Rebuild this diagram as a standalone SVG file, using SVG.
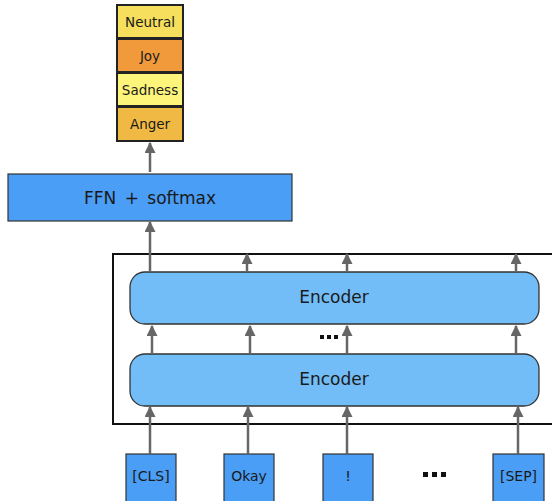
<svg xmlns="http://www.w3.org/2000/svg" width="552" height="501" viewBox="0 0 552 501">
<style>
text{font-family:"DejaVu Sans","Liberation Sans",sans-serif;fill:#1a1a1a;text-anchor:middle;dominant-baseline:central}
.emo{stroke:#222;stroke-width:2}
.blue{fill:#4a9ef5;stroke:#333;stroke-width:1.2}
.enc{fill:#72bdf7;stroke:#333;stroke-width:1.3}
.conn line{stroke:#666;stroke-width:2.5;marker-end:url(#ah)}
</style>
<defs>
<marker id="ah" viewBox="0 0 10 10" refX="9" refY="5" markerWidth="4.4" markerHeight="4.4" orient="auto" markerUnits="strokeWidth">
<path d="M0,0 L10,5 L0,10 z" fill="#666"/>
</marker>
</defs>
<rect width="552" height="501" fill="#fff"/>
<g id="outer"><rect x="113" y="254" width="450" height="170" fill="none" stroke="#111" stroke-width="2"/></g>
<g id="emotions">
<g id="neutral"><rect class="emo" x="117" y="5" width="66" height="33" fill="#f5df5c"/><text x="150" y="21.5" font-size="13.5">Neutral</text></g>
<g id="joy"><rect class="emo" x="117" y="39" width="66" height="33" fill="#f09a3c"/><text x="150" y="55.5" font-size="13.5">Joy</text></g>
<g id="sadness"><rect class="emo" x="117" y="73" width="66" height="33" fill="#fdf47c"/><text x="150" y="89.5" font-size="13.5">Sadness</text></g>
<g id="anger"><rect class="emo" x="117" y="107" width="66" height="34" fill="#f0b944"/><text x="150" y="124" font-size="13.5">Anger</text></g>
</g>
<g id="ffn"><rect class="blue" x="8" y="174" width="284" height="47"/><text x="150" y="197.5" font-size="17" word-spacing="3">FFN + softmax</text></g>
<g id="encoder2"><rect class="enc" x="130" y="272" width="409" height="52" rx="15"/><text x="334" y="297" font-size="17">Encoder</text></g>
<g id="encoder1"><rect class="enc" x="130" y="354" width="409" height="52" rx="15"/><text x="334" y="379" font-size="17">Encoder</text></g>
<g id="tok-cls"><rect class="blue" x="126" y="454" width="50" height="50"/><text x="151" y="476" font-size="14">[CLS]</text></g>
<g id="tok-okay"><rect class="blue" x="224" y="454" width="50" height="50"/><text x="249" y="476" font-size="14">Okay</text></g>
<g id="tok-excl"><rect class="blue" x="323" y="454" width="50" height="50"/><text x="348" y="476" font-size="14">!</text></g>
<g id="tok-sep"><rect class="blue" x="493" y="454" width="51" height="50"/><text x="518.5" y="476" font-size="14">[SEP]</text></g>
<g id="dots">
<g fill="#111"><rect x="423" y="472" width="5" height="5"/><rect x="432" y="472" width="5" height="5"/><rect x="441" y="472" width="5" height="5"/></g>
<g fill="#111"><rect x="320" y="335" width="4" height="4"/><rect x="327" y="335" width="4" height="4"/><rect x="334" y="335" width="4" height="4"/></g>
</g>
<g class="conn" id="connectors">
<line x1="150" y1="172" x2="150" y2="143"/>
<line x1="150" y1="272" x2="150" y2="222"/>
<line x1="247" y1="272" x2="247" y2="254"/>
<line x1="347" y1="272" x2="347" y2="254"/>
<line x1="516" y1="272" x2="516" y2="254"/>
<line x1="152" y1="354" x2="152" y2="326"/>
<line x1="250" y1="354" x2="250" y2="326"/>
<line x1="347" y1="354" x2="347" y2="326"/>
<line x1="516" y1="354" x2="516" y2="326"/>
<line x1="150" y1="454" x2="150" y2="407"/>
<line x1="248" y1="454" x2="248" y2="407"/>
<line x1="347" y1="454" x2="347" y2="407"/>
<line x1="518" y1="454" x2="518" y2="407"/>
</g>
</svg>
